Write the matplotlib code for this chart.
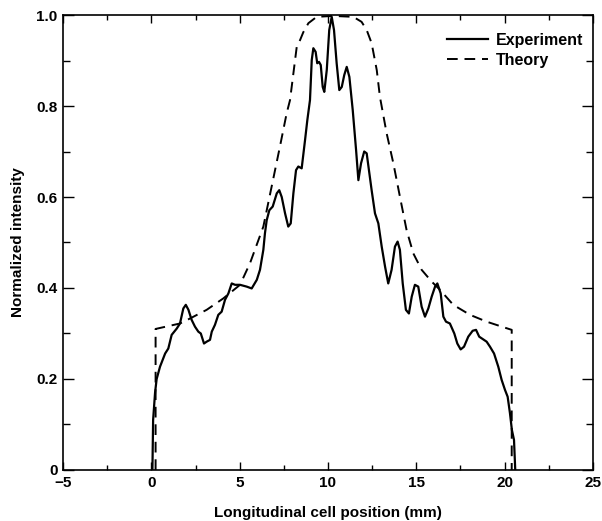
import matplotlib.pyplot as plt
from matplotlib.ticker import MultipleLocator, FixedLocator

plt.rcParams['font.family'] = ['Liberation Sans', 'DejaVu Sans']
plt.rcParams['font.weight'] = 'bold'

# measured experiment profile (mm, normalized intensity)
exp_x = [0.06, 0.1, 0.21, 0.3, 0.49, 0.78, 0.96, 1.15, 1.44, 1.62, 1.81, 1.95,
         2.1, 2.28, 2.47, 2.66, 2.8, 2.98, 3.13, 3.32, 3.42, 3.6, 3.79, 3.98,
         4.17, 4.36, 4.55, 4.74, 5.02, 5.4, 5.68, 5.97, 6.15, 6.34, 6.43, 6.53,
         6.68, 6.87, 7.1, 7.24, 7.38, 7.57, 7.75, 7.89, 8.04, 8.19, 8.32, 8.51,
         8.7, 8.83, 8.98, 9.08, 9.17, 9.3, 9.39, 9.49, 9.59, 9.7, 9.79, 9.93,
         10.07, 10.21, 10.34, 10.49, 10.64, 10.78, 10.92, 11.06, 11.21, 11.4,
         11.59, 11.72, 11.87, 12.05, 12.19, 12.47, 12.66, 12.85, 13.04, 13.23,
         13.41, 13.6, 13.79, 13.94, 14.07, 14.23, 14.41, 14.58, 14.74, 14.92,
         15.11, 15.3, 15.49, 15.68, 15.87, 16.06, 16.19, 16.38, 16.53, 16.68,
         16.9, 17.15, 17.32, 17.51, 17.7, 17.94, 18.19, 18.38, 18.56, 18.79,
         18.98, 19.17, 19.4, 19.64, 19.83, 20.02, 20.17, 20.3, 20.41, 20.53, 20.6]
exp_y = [0.0, 0.11, 0.17, 0.2, 0.227, 0.256, 0.267, 0.297, 0.311, 0.322, 0.355, 0.363,
         0.352, 0.33, 0.315, 0.304, 0.3, 0.278, 0.282, 0.286, 0.304, 0.319, 0.341, 0.348,
         0.374, 0.388, 0.41, 0.407, 0.407, 0.403, 0.399, 0.418, 0.44, 0.484, 0.52, 0.549,
         0.571, 0.579, 0.608, 0.615, 0.6, 0.564, 0.535, 0.542, 0.608, 0.659, 0.667, 0.663,
         0.725, 0.769, 0.813, 0.901, 0.927, 0.919, 0.894, 0.897, 0.89, 0.842, 0.831, 0.879,
         0.967, 0.996, 0.967, 0.894, 0.835, 0.842, 0.868, 0.886, 0.864, 0.791,
         0.703, 0.637, 0.674, 0.7, 0.696, 0.615, 0.564, 0.542, 0.491, 0.447,
         0.41, 0.44, 0.491, 0.502, 0.484, 0.41, 0.352, 0.344, 0.381, 0.407,
         0.403, 0.359, 0.337, 0.355, 0.381, 0.403, 0.41, 0.388, 0.337, 0.326,
         0.322, 0.3, 0.278, 0.265, 0.271, 0.293, 0.306, 0.308, 0.293, 0.287,
         0.282, 0.271, 0.256, 0.227, 0.198, 0.176, 0.161, 0.125, 0.088, 0.066, 0.0]

# theory profile
th_x = [0.24, 0.24, 1.62, 2.19, 3.13, 4.07, 5.02, 5.59, 6.34, 6.81, 7.28, 7.66,
        7.85, 8.23, 8.42, 8.6, 8.89, 9.36, 10.3, 11.43, 11.9, 12.19, 12.47, 12.76,
        12.94, 13.32, 13.7, 14.07, 14.45, 14.83, 15.3, 15.87, 16.34, 17.09, 18.04,
        18.98, 19.92, 20.4, 20.4]
th_y = [0.0, 0.31, 0.322, 0.333, 0.352, 0.377, 0.407, 0.455, 0.535, 0.623, 0.711, 0.784,
        0.813, 0.93, 0.945, 0.962, 0.982, 0.996, 0.998, 0.996, 0.985, 0.967, 0.938, 0.879,
        0.82, 0.74, 0.674, 0.601, 0.527, 0.476, 0.44, 0.414, 0.396, 0.363, 0.341,
        0.326, 0.314, 0.308, 0.0]

xticks = [-5, 0, 5, 10, 15, 20, 25]
xticklabels = ['\u22125', '0', '5', '10', '15', '20', '25']
yticks = [0, 0.2, 0.4, 0.6, 0.8, 1.0]
yticklabels = ['0', '0.2', '0.4', '0.6', '0.8', '1.0']

fig = plt.figure(figsize=(6.02, 5.21), dpi=100)
ax = fig.add_axes([0.1047, 0.0979, 0.8803, 0.8733])

ax.plot(exp_x, exp_y, color='black', lw=1.6, label='Experiment')
ax.plot(th_x, th_y, color='black', lw=1.4, ls=(0, (5.5, 3.5)), label='Theory')

ax.set_xlim(-5, 25)
ax.set_ylim(0, 1.0)
ax.set_xticks(xticks)
ax.set_xticklabels(xticklabels)
ax.set_yticks(yticks)
ax.set_yticklabels(yticklabels)
ax.xaxis.set_minor_locator(MultipleLocator(2.5))
ax.yaxis.set_minor_locator(MultipleLocator(0.1))

ax.tick_params(axis='both', which='both', direction='in', top=True, right=True,
               labelsize=11, width=1.0, pad=4)
ax.tick_params(axis='x', which='major', length=6)
ax.tick_params(axis='x', which='minor', length=3.5)
ax.tick_params(axis='y', which='major', length=8)
ax.tick_params(axis='y', which='minor', length=5)
for lab in ax.get_xticklabels() + ax.get_yticklabels():
    lab.set_fontweight('bold')
for sp in ax.spines.values():
    sp.set_linewidth(1.2)

ax.set_xlabel('Longitudinal cell position (mm)', fontsize=11, fontweight='bold', labelpad=12)
ax.set_ylabel('Normalized intensity', fontsize=11, fontweight='bold', labelpad=8)

leg = ax.legend(loc='upper right', bbox_to_anchor=(0.993, 0.975), frameon=False,
                fontsize=11.5, handlelength=2.6, handletextpad=0.45,
                borderaxespad=0.0, labelspacing=0.3)
for t in leg.get_texts():
    t.set_fontweight('bold')

fig.savefig('out.png', dpi=100)
